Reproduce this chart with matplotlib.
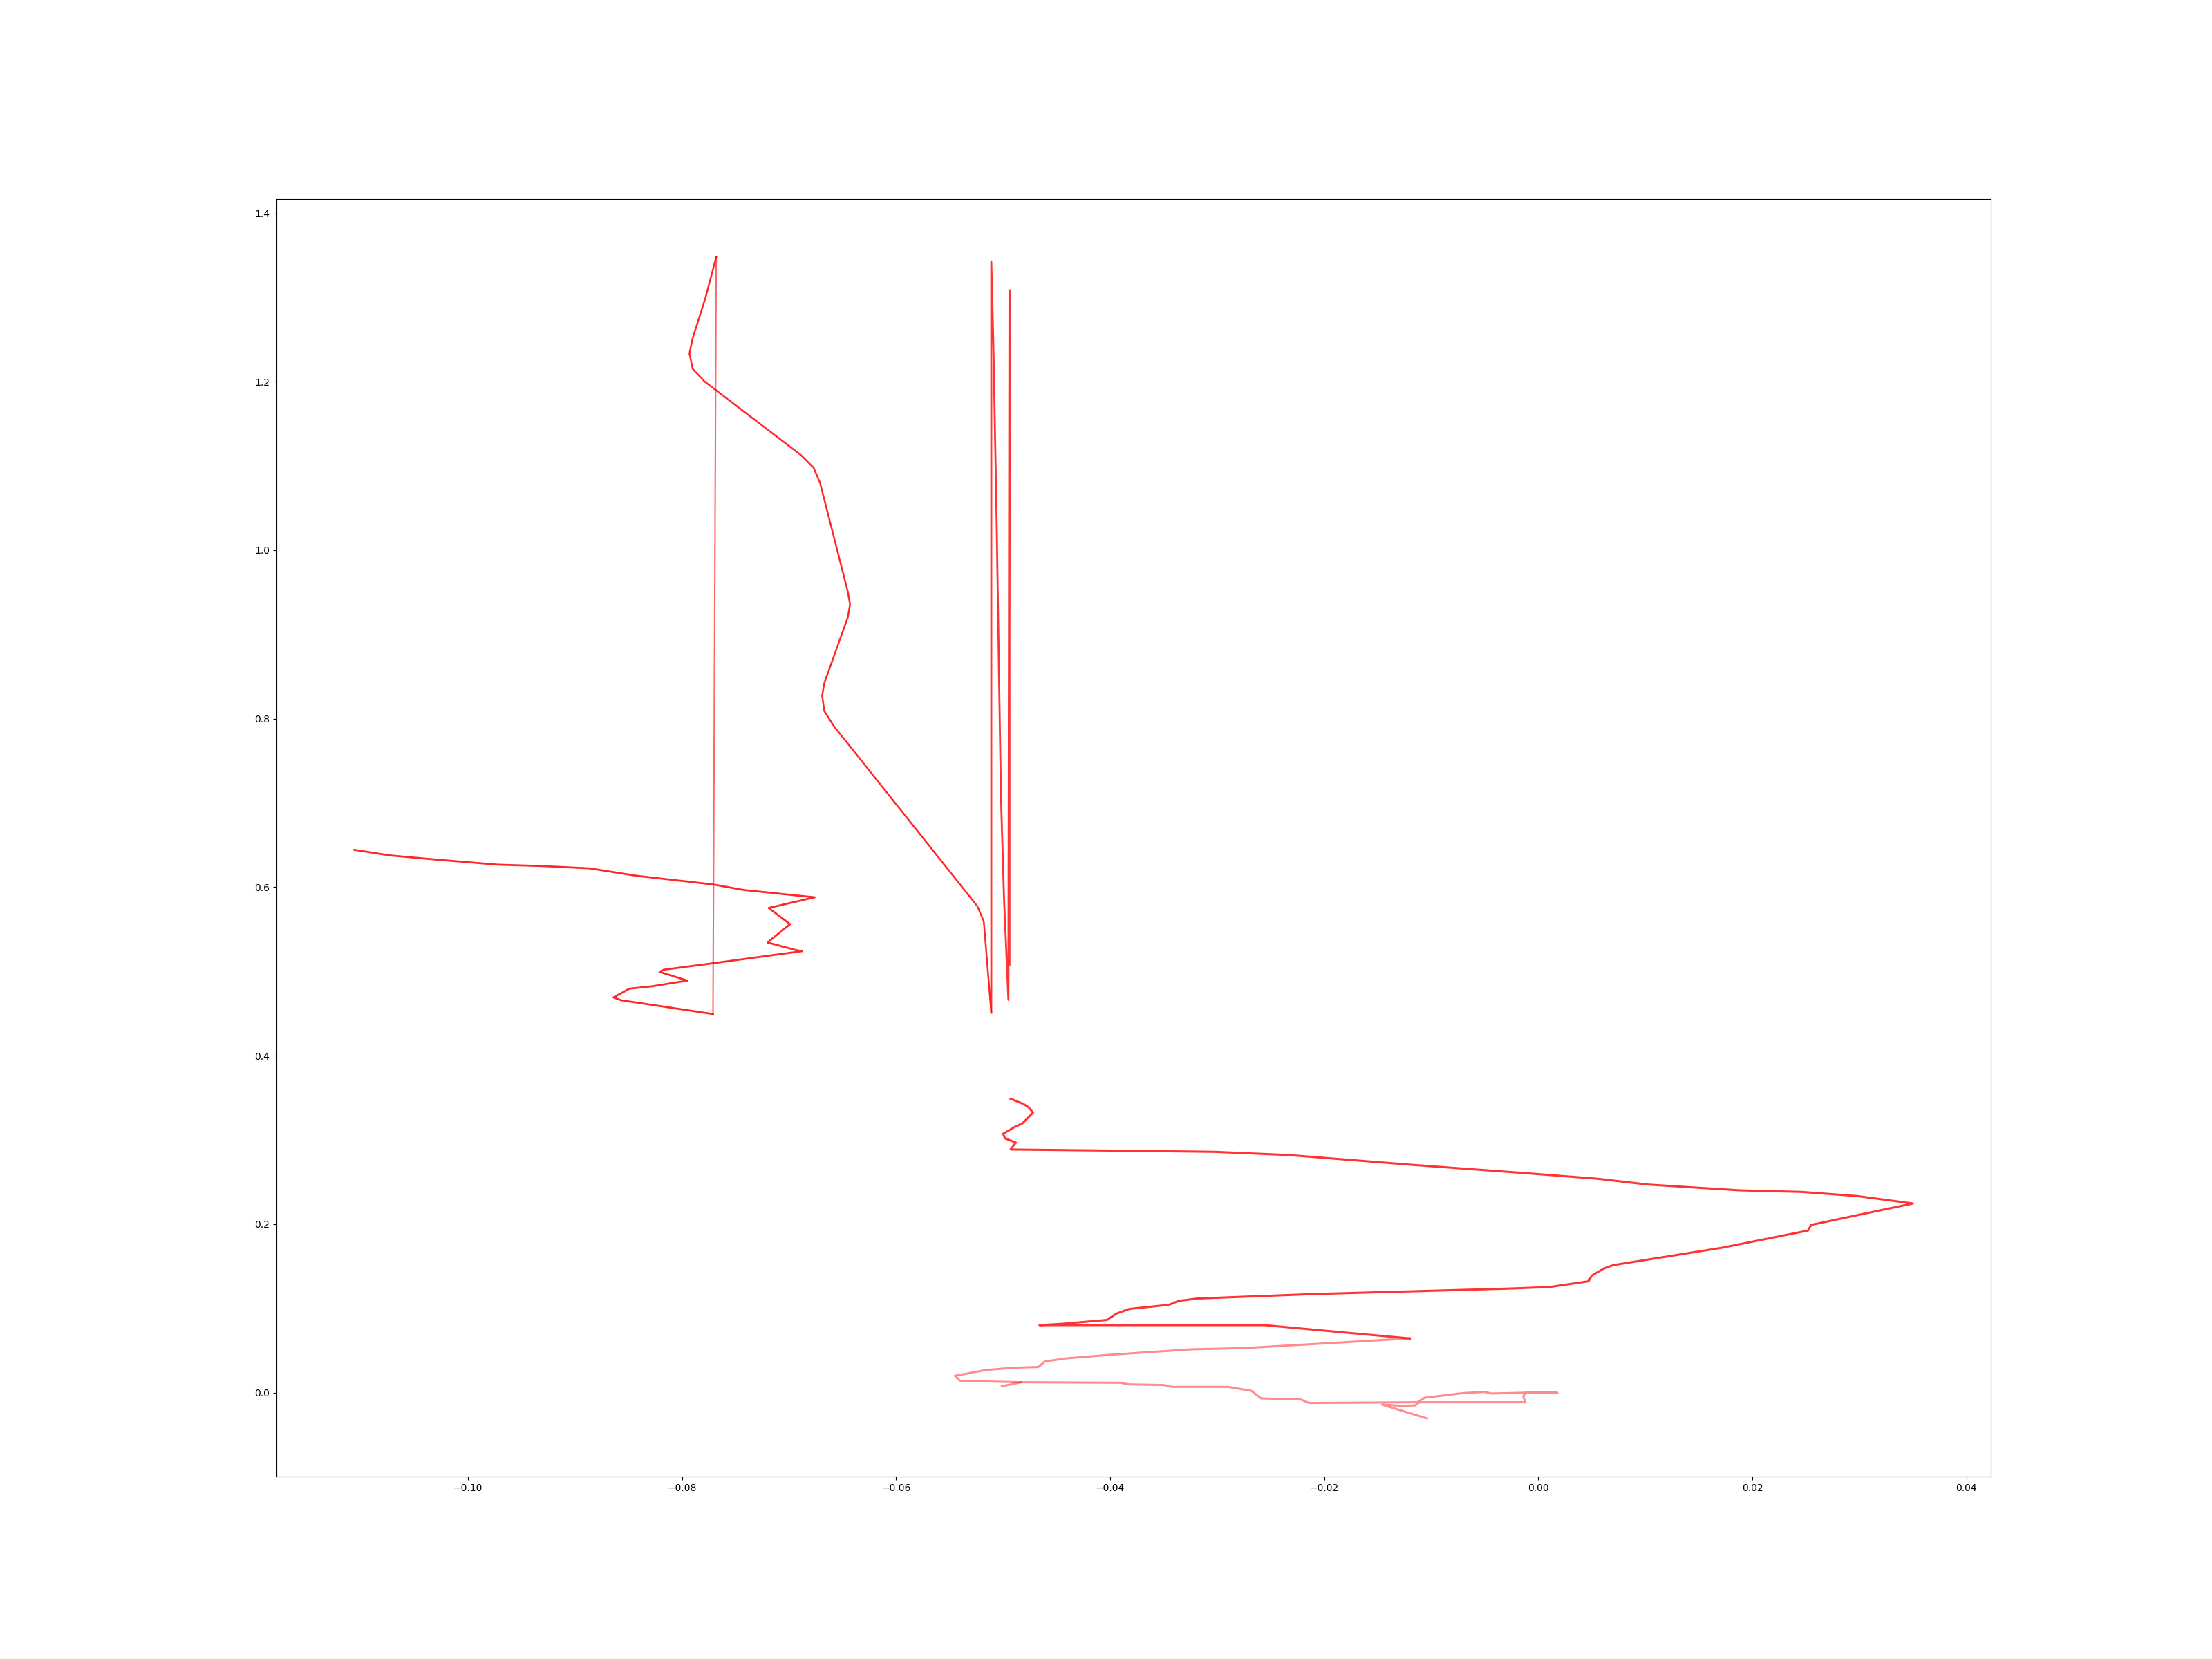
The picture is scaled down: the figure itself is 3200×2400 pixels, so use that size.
import matplotlib
matplotlib.use("Agg")
import matplotlib.pyplot as plt

# trace 1: left zigzag ending at the jump column
zig_x = [-0.1106, -0.1073, -0.1030, -0.0972, -0.0929, -0.0886, -0.0843, -0.0771, -0.0742, -0.0694,
         -0.0676, -0.0719, -0.0699, -0.0720, -0.0694, -0.0688, -0.0771, -0.0817, -0.0821, -0.0795,
         -0.0828, -0.0849, -0.0864, -0.0857, -0.0771]
zig_y = [0.6443, 0.6377, 0.6328, 0.6267, 0.6250, 0.6223, 0.6136, 0.6032, 0.5966, 0.5903,
         0.5880, 0.5753, 0.5561, 0.5343, 0.5255, 0.5240, 0.5097, 0.5020, 0.4995, 0.4891,
         0.4823, 0.4795, 0.4691, 0.4658, 0.4494]

# trace 2: jump up, then the S-shaped descent
jump_x = [-0.0771, -0.0768]
jump_y = [0.4494, 1.3479]

s_x = [-0.0768, -0.0778, -0.0790, -0.0793, -0.0790, -0.0779, -0.0689, -0.0677, -0.0671, -0.0645,
       -0.0643, -0.0645, -0.0667, -0.0669, -0.0667, -0.0658, -0.0524, -0.0518, -0.0511]
s_y = [1.3479, 1.2997, 1.2516, 1.2335, 1.2154, 1.2004, 1.1131, 1.0980, 1.0800, 0.9506,
       0.9355, 0.9205, 0.8423, 0.8272, 0.8091, 0.7911, 0.5774, 0.5593, 0.4510]

# trace 3: the near-vertical columns
col_x = [-0.0511, -0.0511, -0.0509, -0.0506, -0.0502, -0.0499, -0.0495, -0.0494, -0.0494]
col_y = [0.4510, 1.3430, 1.2395, 1.0348, 0.7098, 0.5834, 0.4661, 1.3087, 0.5080]

# trace 4: lower sweep
sweep_x = [-0.0493, -0.0481, -0.0476, -0.0472, -0.0482, -0.0489, -0.0500, -0.0498, -0.0488, -0.0493,
           -0.0359, -0.0302, -0.0233, -0.0117, -0.0014, 0.0056, 0.0102, 0.0188, 0.0246, 0.0298,
           0.0350, 0.0255, 0.0252, 0.0171, 0.0070, 0.0061, 0.0050, 0.0047, 0.0010, -0.0031,
           -0.0209, -0.0319, -0.0336, -0.0345, -0.0382, -0.0394, -0.0403, -0.0446, -0.0466, -0.0256,
           -0.0186, -0.0120]
sweep_y = [0.3488, 0.3427, 0.3386, 0.3324, 0.3195, 0.3154, 0.3072, 0.3017, 0.2968, 0.2886,
           0.2867, 0.2858, 0.2820, 0.2703, 0.2607, 0.2538, 0.2470, 0.2401, 0.2382, 0.2333,
           0.2245, 0.1991, 0.1923, 0.1718, 0.1513, 0.1471, 0.1389, 0.1321, 0.1252, 0.1233,
           0.1170, 0.1116, 0.1088, 0.1042, 0.0993, 0.0938, 0.0862, 0.0815, 0.0801, 0.0801,
           0.0719, 0.0643]

# trace 5: faint tail near zero
tail_x = [-0.0120, -0.0275, -0.0324, -0.0398, -0.0442, -0.0461, -0.0467, -0.0490, -0.0516, -0.0545,
          -0.0540, -0.0483, -0.0390, -0.0383, -0.0350, -0.0342, -0.0290, -0.0268, -0.0259, -0.0222,
          -0.0214, -0.0113, -0.0106, -0.0070, -0.0050, -0.0044, 0.0001, 0.0018, -0.0012, -0.0014,
          -0.0012, -0.0111, -0.0115, -0.0126, -0.0146, -0.0104]
tail_y = [0.0643, 0.0528, 0.0514, 0.0451, 0.0405, 0.0369, 0.0304, 0.0295, 0.0268, 0.0199,
          0.0139, 0.0123, 0.0117, 0.0098, 0.0090, 0.0068, 0.0068, 0.0021, -0.0069, -0.0082,
          -0.0123, -0.0115, -0.0061, -0.0006, 0.0008, -0.0011, 0.0002, -0.0003, -0.0003, -0.0047,
          -0.0115, -0.0115, -0.0151, -0.0158, -0.0143, -0.0307]

stub_x = [-0.0501, -0.0483]
stub_y = [0.0076, 0.0123]

fig, ax = plt.subplots(figsize=(32, 24), dpi=100)

ax.plot(zig_x, zig_y, color='red', alpha=0.85, lw=2)
ax.plot(jump_x, jump_y, color='red', alpha=0.6, lw=1.5)
ax.plot(s_x, s_y, color='red', alpha=0.85, lw=1.8)
ax.plot(col_x, col_y, color='red', alpha=0.8, lw=2)
ax.plot(sweep_x, sweep_y, color='red', alpha=0.8, lw=2.2)
ax.plot(tail_x, tail_y, color='red', alpha=0.45, lw=2.2)
ax.plot(stub_x, stub_y, color='red', alpha=0.45, lw=2.2)

plt.savefig('out.png')
